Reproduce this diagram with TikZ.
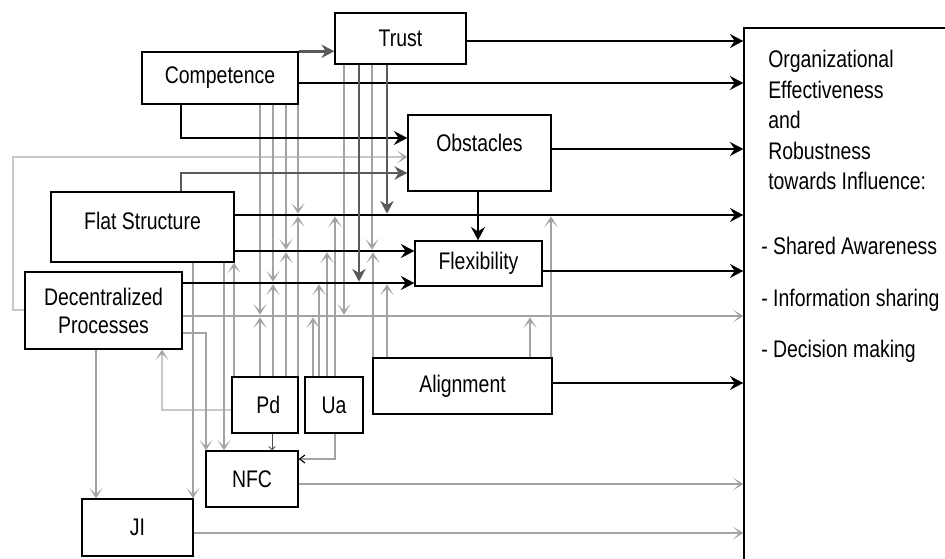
\documentclass[tikz,border=0pt]{standalone}
\usepackage{fontspec}
\setmainfont{Liberation Sans}[FakeStretch=0.81]
\usetikzlibrary{arrows.meta}
\definecolor{gA}{HTML}{A3A3A3}
\definecolor{gL}{HTML}{C8C8C8}
\definecolor{gD}{HTML}{5A5A5A}
\begin{document}
\begin{tikzpicture}[x=0.75pt,y=-0.75pt,
  every node/.style={font=\fontsize{18pt}{21pt}\selectfont},
  bx/.style={draw=black, line width=1.1pt, inner sep=0pt, align=center},
  blk/.style={draw=black, line width=2pt, -{Stealth[length=10pt,width=10.5pt,inset=3.5pt]}},
  gry/.style={draw=gA, line width=1.3pt, -{Stealth[length=8pt,width=10pt,inset=5pt,fill=gA]}},
  lgry/.style={draw=gL, line width=1.3pt, -{Stealth[length=8pt,width=10pt,inset=5pt,fill=gA,color=gA]}},
  dk/.style={draw=gD, line width=2pt, -{Stealth[length=9.5pt,width=10pt,inset=3pt]}},
  thinA/.style={draw=black!70, line width=0.6pt, -{Straight Barb[length=2.5pt,width=5pt]}},
  thinB/.style={draw=gA, line width=0.8pt, -{Straight Barb[length=4pt,width=6pt,color=black]}},
  mod/.style={shorten >=1pt},
  txt/.style={anchor=base west, inner sep=0pt}
]
\useasboundingbox (0,0) rectangle (945,559);
\clip (0,0) rectangle (945,559);

% boxes
\node[bx, minimum width=98.25pt, minimum height=38.25pt] (trust) at (400.5,38.5) {Trust};
\node[bx, minimum width=117pt, minimum height=39pt] (comp) at (220,78) {Competence};
\node[bx, minimum width=107.25pt, minimum height=57pt, label={[yshift=7.5pt]center:Obstacles}] (obst) at (479.5,153) {};
\node[bx, minimum width=137.25pt, minimum height=52.5pt, label={[yshift=4.5pt]center:Flat Structure}] (flat) at (142.5,227) {};
\node[bx, minimum width=95.25pt, minimum height=33.75pt] (flex) at (478.5,263.5) {Flexibility};
\node[bx, minimum width=117.75pt, minimum height=57.75pt] (dec) at (103.5,310.5) {Decentralized\\Processes};
\node[bx, minimum width=134.25pt, minimum height=42pt] (align) at (462.5,386) {Alignment};
\node[bx, minimum width=49.5pt, minimum height=42pt] (pd) at (265,405) {\hspace*{5pt}Pd};
\node[bx, minimum width=43.5pt, minimum height=42pt] (ua) at (334,405) {Ua};
\node[bx, minimum width=69pt, minimum height=42pt] (nfc) at (252,479) {NFC};
\node[bx, minimum width=83.25pt, minimum height=42.75pt] (ji) at (137.5,527.5) {JI};
\node[bx, minimum width=162pt, minimum height=429pt] (big) at (852,314) {};

% text of the outcome box
\node[txt] (bt1) at (768,68) {Organizational};
\node[txt] (bt2) at (768,98.5) {Effectiveness};
\node[txt] (bt3) at (768,129) {and};
\node[txt] (bt4) at (768,159.5) {Robustness};
\node[txt] (bt5) at (768,190) {towards Influence:};
\node[txt] (bt6) at (761,255) {- Shared Awareness};
\node[txt] (bt7) at (761,306) {- Information sharing};
\node[txt] (bt8) at (761,357) {- Decision making};

% helper levels
\coordinate (yT) at (0,41);
\coordinate (yCo) at (0,83);
\coordinate (yOb) at (0,149);
\coordinate (yA) at (0,215);
\coordinate (yB) at (0,251);
\coordinate (yC) at (0,283);
\coordinate (yFx) at (0,271);
\coordinate (yD) at (0,316);
\coordinate (yAl) at (0,383);
\coordinate (yN) at (0,484);
\coordinate (yJ) at (0,533);
\coordinate (k1) at (181,138);
\coordinate (k2) at (181,173);
\coordinate (k3) at (13,310);
\coordinate (k4) at (13,157);
\coordinate (k5) at (206,333);
\coordinate (k6) at (162,410);
\coordinate (k7) at (335,459);
\coordinate (x96) at (96,0);
\coordinate (x193) at (193,0);
\coordinate (x224) at (224,0);
\coordinate (x234) at (234,0);
\coordinate (x272) at (272,0);
\coordinate (x478) at (478,0);
% moderation targets
\coordinate (cD) at (260,316); \coordinate (cC) at (273,283);
\coordinate (cB) at (286,251); \coordinate (cA) at (298,215);
\coordinate (uD) at (313,316); \coordinate (uC) at (319,283);
\coordinate (uB) at (327,251); \coordinate (uA) at (335,215);
\coordinate (tD) at (344,316); \coordinate (tB) at (372,251);
\coordinate (tC) at (359,283); \coordinate (tA) at (387,215);
\coordinate (aB) at (373,251); \coordinate (aC) at (387,283);
\coordinate (aD) at (530,316); \coordinate (aA) at (551,215);

% light gray
\draw[lgry] (dec.west |- k3) -- (k3) -- (k4) -- (obst.west |- k4);
\draw[lgry] (pd.west |- k6) -- (k6) -- (dec.south -| k6);

% gray
\draw[gry] (dec.east |- yD) -- (big.west |- yD);
\draw[gry] (nfc.east |- yN) -- (big.west |- yN);
\draw[gry] (ji.east |- yJ) -- (big.west |- yJ);
\draw[gry] (dec.south -| x96) -- (ji.north -| x96);
\draw[gry] (flat.south -| x193) -- (ji.north -| x193);
\draw[gry] (flat.south -| x224) -- (nfc.north -| x224);
\draw[gry] (dec.east |- k5) -- (k5) -- (nfc.north -| k5);
\draw[gry] (pd.north -| x234) -- (flat.south -| x234);

\foreach \c in {cD,cC,cB,cA} {
  \draw[gry,mod] (comp.south -| \c) -- (\c);
  \draw[gry,mod] (pd.north -| \c) -- (\c);
}
\foreach \c in {uD,uC,uB,uA} \draw[gry,mod] (ua.north -| \c) -- (\c);
\foreach \c in {aB,aC,aD,aA} \draw[gry,mod] (align.north -| \c) -- (\c);
\draw[gry,mod] (trust.south -| tD) -- (tD);
\draw[gry,mod] (trust.south -| tB) -- (tB);

% black
\draw[blk] (trust.east |- yT) -- (big.west |- yT);
\draw[blk] (comp.east |- yCo) -- (big.west |- yCo);
\draw[blk] (comp.south -| k1) -- (k1) -- (obst.west |- k1);
\draw[blk] (obst.east |- yOb) -- (big.west |- yOb);
\draw[blk] (obst.south -| x478) -- (flex.north -| x478);
\draw[blk] (flat.east |- yA) -- (big.west |- yA);
\draw[blk] (flat.east |- yB) -- (flex.west |- yB);
\draw[blk] (dec.east |- yC) -- (flex.west |- yC);
\draw[blk] (flex.east |- yFx) -- (big.west |- yFx);
\draw[blk] (align.east |- yAl) -- (big.west |- yAl);

% dark gray
\draw[dk] (comp.north east) -- (trust.west |- comp.north east);
\draw[dk] (flat.north -| k2) -- (k2) -- (obst.west |- k2);
\draw[dk,mod] (trust.south -| tC) -- (tC);
\draw[dk,mod] (trust.south -| tA) -- (tA);

% thin
\draw[thinA] (pd.south -| x272) -- (nfc.north -| x272);
\draw[thinB] (ua.south -| k7) -- (k7) -- (nfc.east |- k7);
\end{tikzpicture}
\end{document}
